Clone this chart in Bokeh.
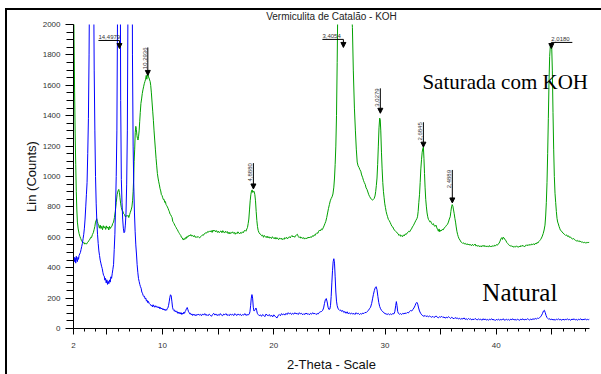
import math
from bokeh.plotting import figure
from bokeh.models import (Range1d, FixedTicker, SingleIntervalTicker, Label, Arrow, NormalHead)
from bokeh.embed import file_html
from bokeh.resources import INLINE

# ---------------- data ----------------
# (2-theta in degrees, counts) — Vermiculita saturada com KOH (green)
koh_scan = [
    (2.00, 2300), (2.05, 1900), (2.10, 1550), (2.15, 1280), (2.20, 1080), (2.25, 900), (2.30, 780), (2.35, 700),
    (2.42, 655), (2.50, 625), (2.58, 605), (2.65, 592), (2.72, 578), (2.80, 570), (2.88, 562), (2.95, 566),
    (3.02, 555), (3.10, 560), (3.18, 556), (3.25, 566), (3.32, 570), (3.40, 580), (3.48, 588), (3.55, 600),
    (3.62, 598), (3.70, 618), (3.78, 630), (3.85, 650), (3.92, 672), (3.98, 700), (4.04, 712), (4.09, 722),
    (4.14, 705), (4.20, 690), (4.27, 676), (4.33, 660), (4.40, 680), (4.47, 658), (4.54, 672), (4.61, 650),
    (4.68, 676), (4.75, 662), (4.82, 670), (4.89, 652), (4.96, 675), (5.03, 660), (5.10, 668), (5.17, 648),
    (5.24, 672), (5.31, 658), (5.38, 668), (5.45, 672), (5.52, 690), (5.60, 700), (5.68, 730), (5.76, 770),
    (5.84, 830), (5.92, 880), (6.00, 905), (6.07, 915), (6.13, 895), (6.18, 860), (6.24, 820), (6.30, 795),
    (6.37, 778), (6.44, 770), (6.51, 755), (6.58, 750), (6.66, 735), (6.74, 742), (6.82, 738), (6.90, 745),
    (6.97, 730), (7.04, 748), (7.11, 765), (7.18, 780), (7.25, 800), (7.31, 840), (7.36, 900), (7.41, 990),
    (7.45, 1100), (7.50, 1180), (7.55, 1290), (7.60, 1330), (7.65, 1310), (7.70, 1270), (7.75, 1250), (7.80, 1240),
    (7.85, 1265), (7.90, 1300), (7.95, 1360), (8.00, 1420), (8.06, 1480), (8.12, 1510), (8.18, 1545), (8.24, 1570),
    (8.30, 1590), (8.36, 1610), (8.42, 1625), (8.48, 1640), (8.54, 1665), (8.59, 1640), (8.64, 1670), (8.69, 1680),
    (8.74, 1655), (8.79, 1648), (8.84, 1635), (8.89, 1625), (8.94, 1600), (9.00, 1550), (9.06, 1490), (9.12, 1430),
    (9.18, 1370), (9.24, 1300), (9.30, 1240), (9.36, 1180), (9.42, 1120), (9.48, 1070), (9.54, 1020), (9.60, 990),
    (9.66, 965), (9.72, 945), (9.78, 920), (9.84, 905), (9.90, 880), (9.96, 875), (10.02, 860), (10.08, 848),
    (10.14, 850), (10.20, 830), (10.26, 835), (10.32, 815), (10.38, 808), (10.44, 800), (10.50, 790), (10.56, 778),
    (10.62, 768), (10.68, 752), (10.74, 748), (10.80, 738), (10.86, 730), (10.92, 705), (10.98, 698), (11.04, 690),
    (11.10, 680), (11.16, 672), (11.22, 665), (11.28, 655), (11.34, 650), (11.40, 640), (11.46, 632), (11.52, 625),
    (11.58, 618), (11.64, 612), (11.70, 600), (11.76, 598), (11.82, 588), (11.88, 582), (11.94, 592), (12.00, 586),
    (12.06, 598), (12.12, 592), (12.18, 604), (12.24, 600), (12.30, 610), (12.36, 606), (12.42, 615), (12.48, 610),
    (12.54, 618), (12.62, 608), (12.70, 612), (12.78, 604), (12.86, 612), (12.94, 600), (13.02, 605), (13.10, 598),
    (13.18, 606), (13.26, 600), (13.34, 596), (13.42, 604), (13.50, 610), (13.58, 615), (13.66, 612), (13.74, 622),
    (13.82, 626), (13.90, 630), (13.98, 628), (14.06, 638), (14.14, 634), (14.22, 642), (14.30, 636), (14.38, 644),
    (14.46, 632), (14.54, 648), (14.62, 640), (14.70, 646), (14.78, 636), (14.86, 644), (14.94, 632), (15.02, 640),
    (15.10, 630), (15.18, 638), (15.26, 642), (15.34, 630), (15.42, 644), (15.50, 634), (15.58, 628), (15.66, 640),
    (15.74, 632), (15.82, 638), (15.90, 624), (15.98, 634), (16.06, 622), (16.14, 632), (16.22, 628), (16.30, 636),
    (16.38, 626), (16.46, 632), (16.54, 620), (16.62, 630), (16.70, 624), (16.78, 636), (16.86, 628), (16.94, 622),
    (17.02, 632), (17.10, 626), (17.18, 636), (17.26, 630), (17.34, 642), (17.42, 646), (17.50, 640), (17.58, 655),
    (17.64, 665), (17.70, 690), (17.76, 720), (17.82, 780), (17.88, 840), (17.94, 880), (18.00, 905), (18.06, 912),
    (18.12, 895), (18.18, 905), (18.24, 900), (18.30, 880), (18.36, 840), (18.42, 770), (18.48, 710), (18.54, 670),
    (18.60, 645), (18.68, 630), (18.76, 622), (18.84, 618), (18.92, 610), (19.00, 615), (19.08, 600), (19.16, 612),
    (19.24, 605), (19.32, 598), (19.40, 608), (19.48, 596), (19.56, 604), (19.64, 594), (19.72, 600), (19.80, 592),
    (19.88, 604), (19.96, 596), (20.04, 590), (20.12, 600), (20.20, 588), (20.28, 598), (20.36, 590), (20.44, 585),
    (20.52, 596), (20.60, 588), (20.68, 594), (20.76, 584), (20.84, 592), (20.92, 586), (21.00, 598), (21.08, 592),
    (21.16, 600), (21.24, 590), (21.32, 598), (21.40, 604), (21.48, 596), (21.56, 606), (21.64, 612), (21.72, 602),
    (21.80, 608), (21.88, 600), (21.96, 610), (22.04, 616), (22.12, 620), (22.20, 606), (22.28, 598), (22.36, 604),
    (22.44, 594), (22.52, 600), (22.60, 592), (22.68, 598), (22.76, 588), (22.84, 596), (22.92, 590), (23.00, 598),
    (23.08, 594), (23.16, 602), (23.24, 596), (23.32, 604), (23.40, 600), (23.48, 610), (23.56, 606), (23.64, 616),
    (23.72, 612), (23.80, 624), (23.88, 630), (23.96, 626), (24.04, 640), (24.12, 648), (24.20, 642), (24.28, 655),
    (24.36, 650), (24.44, 662), (24.52, 675), (24.60, 690), (24.68, 705), (24.76, 730), (24.84, 760), (24.92, 790),
    (25.00, 815), (25.08, 840), (25.16, 855), (25.24, 866), (25.32, 885), (25.40, 930), (25.46, 990), (25.52, 1080),
    (25.58, 1200), (25.64, 1400), (25.70, 1750), (25.76, 2150), (25.85, 2700), (25.95, 3100), (26.05, 3350), (26.15, 3450),
    (26.25, 3380), (26.40, 3100), (26.60, 2700), (26.80, 2380), (26.95, 2150), (27.07, 1980), (27.15, 1700), (27.25, 1450),
    (27.34, 1300), (27.42, 1180), (27.50, 1095), (27.58, 1070), (27.66, 1060), (27.74, 1045), (27.82, 1035), (27.90, 1010),
    (27.98, 995), (28.06, 975), (28.14, 960), (28.22, 948), (28.30, 925), (28.38, 915), (28.46, 898), (28.54, 880),
    (28.62, 868), (28.70, 858), (28.78, 850), (28.86, 845), (28.94, 848), (29.02, 855), (29.10, 872), (29.16, 900),
    (29.22, 940), (29.28, 990), (29.34, 1080), (29.40, 1200), (29.46, 1320), (29.52, 1384), (29.57, 1375), (29.62, 1300),
    (29.68, 1160), (29.74, 1050), (29.80, 960), (29.86, 900), (29.92, 860), (29.98, 820), (30.04, 795), (30.10, 770),
    (30.16, 752), (30.22, 738), (30.30, 718), (30.38, 710), (30.46, 698), (30.54, 685), (30.62, 672), (30.70, 668),
    (30.78, 655), (30.86, 646), (30.94, 640), (31.02, 636), (31.10, 628), (31.18, 622), (31.26, 612), (31.34, 618),
    (31.42, 606), (31.50, 612), (31.58, 604), (31.66, 616), (31.74, 610), (31.82, 622), (31.90, 618), (31.98, 628),
    (32.06, 632), (32.14, 640), (32.22, 636), (32.30, 648), (32.38, 655), (32.46, 668), (32.54, 676), (32.62, 688),
    (32.70, 700), (32.78, 712), (32.86, 722), (32.92, 735), (32.98, 770), (33.04, 830), (33.10, 880), (33.16, 960),
    (33.22, 1050), (33.28, 1110), (33.34, 1160), (33.40, 1185), (33.45, 1193), (33.50, 1120), (33.55, 1020), (33.60, 930),
    (33.66, 850), (33.72, 800), (33.78, 760), (33.84, 735), (33.90, 718), (33.96, 712), (34.02, 702), (34.10, 706),
    (34.18, 692), (34.26, 684), (34.34, 690), (34.42, 676), (34.50, 672), (34.58, 680), (34.66, 662), (34.74, 650),
    (34.80, 640), (34.86, 655), (34.92, 636), (34.98, 648), (35.06, 642), (35.14, 652), (35.22, 648), (35.30, 660),
    (35.38, 664), (35.46, 672), (35.54, 680), (35.62, 686), (35.70, 700), (35.78, 720), (35.86, 735), (35.92, 770),
    (35.98, 800), (36.04, 815), (36.10, 805), (36.16, 780), (36.22, 755), (36.28, 725), (36.34, 700), (36.40, 668),
    (36.46, 640), (36.52, 620), (36.58, 605), (36.66, 590), (36.74, 582), (36.82, 570), (36.90, 566), (36.98, 560),
    (37.06, 564), (37.14, 556), (37.22, 560), (37.30, 552), (37.38, 558), (37.46, 550), (37.54, 556), (37.62, 548),
    (37.70, 552), (37.78, 545), (37.86, 554), (37.94, 546), (38.02, 550), (38.10, 556), (38.18, 542), (38.26, 548),
    (38.34, 540), (38.42, 546), (38.50, 538), (38.58, 544), (38.66, 536), (38.74, 546), (38.82, 540), (38.90, 548),
    (38.98, 538), (39.06, 544), (39.14, 536), (39.22, 542), (39.30, 538), (39.38, 546), (39.46, 536), (39.54, 542),
    (39.62, 538), (39.70, 546), (39.78, 540), (39.86, 548), (39.94, 544), (40.02, 552), (40.10, 548), (40.18, 556),
    (40.26, 562), (40.34, 575), (40.42, 590), (40.50, 598), (40.56, 586), (40.62, 600), (40.70, 596), (40.78, 584),
    (40.86, 580), (40.94, 566), (41.02, 560), (41.10, 552), (41.18, 548), (41.26, 542), (41.34, 546), (41.42, 538),
    (41.50, 542), (41.58, 534), (41.66, 540), (41.74, 536), (41.82, 544), (41.90, 538), (41.98, 534), (42.06, 542),
    (42.14, 536), (42.22, 546), (42.30, 540), (42.38, 548), (42.46, 542), (42.54, 536), (42.62, 546), (42.70, 550),
    (42.78, 544), (42.86, 552), (42.94, 546), (43.02, 554), (43.10, 548), (43.18, 556), (43.26, 552), (43.34, 558),
    (43.42, 550), (43.50, 560), (43.58, 556), (43.66, 566), (43.74, 562), (43.82, 572), (43.90, 578), (43.98, 585),
    (44.06, 595), (44.14, 608), (44.22, 625), (44.30, 648), (44.38, 680), (44.44, 740), (44.50, 830), (44.56, 960),
    (44.62, 1150), (44.68, 1380), (44.74, 1620), (44.80, 1790), (44.86, 1860), (44.92, 1875), (44.98, 1860), (45.04, 1700),
    (45.10, 1420), (45.16, 1180), (45.22, 1000), (45.28, 890), (45.34, 830), (45.40, 770), (45.46, 725), (45.52, 700),
    (45.58, 688), (45.64, 672), (45.70, 660), (45.76, 648), (45.84, 642), (45.92, 635), (46.00, 628), (46.08, 622),
    (46.16, 618), (46.24, 612), (46.32, 616), (46.40, 606), (46.48, 610), (46.56, 600), (46.64, 604), (46.72, 596),
    (46.80, 592), (46.88, 588), (46.96, 592), (47.04, 584), (47.12, 580), (47.20, 576), (47.28, 580), (47.36, 572),
    (47.44, 578), (47.52, 570), (47.60, 574), (47.68, 566), (47.76, 570), (47.84, 564), (47.92, 568), (48.00, 562),
    (48.08, 566), (48.16, 562), (48.24, 568), (48.32, 565), (48.38, 570),
]

# (2-theta in degrees, counts) — Vermiculita natural (blue)
natural_scan = [
    (2.00, 452), (2.05, 470), (2.10, 440), (2.15, 465), (2.20, 430), (2.25, 475), (2.30, 450), (2.35, 440),
    (2.40, 468), (2.45, 455), (2.50, 480), (2.56, 490), (2.62, 500), (2.68, 520), (2.74, 540), (2.80, 560),
    (2.86, 590), (2.92, 620), (2.98, 660), (3.04, 720), (3.10, 800), (3.16, 880), (3.22, 960), (3.28, 1150),
    (3.34, 1380), (3.40, 1800), (3.46, 2500), (3.55, 3600), (3.64, 4200), (3.72, 3600), (3.80, 2400), (3.86, 1700),
    (3.92, 1300), (3.98, 1000), (4.04, 820), (4.10, 700), (4.16, 620), (4.22, 560), (4.28, 510), (4.34, 480),
    (4.40, 450), (4.46, 430), (4.52, 410), (4.58, 395), (4.64, 370), (4.70, 350), (4.76, 345), (4.82, 318),
    (4.88, 330), (4.94, 300), (5.00, 320), (5.06, 290), (5.12, 310), (5.18, 295), (5.24, 320), (5.30, 305),
    (5.36, 340), (5.42, 330), (5.48, 360), (5.54, 390), (5.60, 420), (5.66, 520), (5.72, 620), (5.78, 800),
    (5.84, 1000), (5.90, 1300), (5.96, 2100), (6.02, 4500), (6.10, 5000), (6.18, 3000), (6.24, 1500), (6.30, 980),
    (6.36, 830), (6.42, 720), (6.48, 660), (6.54, 630), (6.60, 635), (6.66, 680), (6.72, 760), (6.78, 950),
    (6.84, 1300), (6.90, 2200), (6.98, 5000), (7.10, 6000), (7.22, 4000), (7.30, 1800), (7.36, 1200), (7.42, 930),
    (7.48, 760), (7.54, 640), (7.60, 550), (7.66, 490), (7.72, 420), (7.78, 370), (7.84, 330), (7.90, 310),
    (7.96, 290), (8.02, 275), (8.08, 265), (8.14, 240), (8.20, 232), (8.26, 218), (8.32, 210), (8.38, 212),
    (8.44, 195), (8.50, 200), (8.56, 180), (8.62, 185), (8.68, 170), (8.74, 178), (8.80, 165), (8.86, 160),
    (8.92, 158), (8.98, 150), (9.04, 155), (9.10, 142), (9.16, 156), (9.22, 148), (9.28, 140), (9.34, 150),
    (9.40, 142), (9.46, 146), (9.52, 138), (9.58, 144), (9.64, 135), (9.70, 142), (9.76, 130), (9.82, 138),
    (9.88, 128), (9.94, 135), (10.00, 125), (10.06, 130), (10.12, 122), (10.18, 128), (10.24, 118), (10.30, 125),
    (10.36, 120), (10.42, 130), (10.48, 135), (10.54, 150), (10.60, 175), (10.66, 205), (10.72, 222), (10.78, 215),
    (10.84, 180), (10.90, 140), (10.96, 125), (11.02, 118), (11.08, 122), (11.14, 110), (11.20, 116), (11.26, 108),
    (11.32, 112), (11.38, 100), (11.44, 108), (11.50, 98), (11.56, 106), (11.62, 95), (11.68, 104), (11.74, 92),
    (11.80, 102), (11.86, 96), (11.92, 108), (11.98, 100), (12.04, 112), (12.10, 120), (12.16, 132), (12.22, 138),
    (12.28, 125), (12.34, 110), (12.40, 104), (12.46, 96), (12.52, 100), (12.58, 90), (12.64, 96), (12.70, 86),
    (12.76, 94), (12.82, 88), (12.88, 92), (12.94, 84), (13.00, 92), (13.10, 86), (13.20, 95), (13.30, 88),
    (13.40, 93), (13.50, 84), (13.60, 96), (13.70, 88), (13.80, 98), (13.90, 86), (14.00, 92), (14.10, 84),
    (14.20, 95), (14.30, 88), (14.40, 80), (14.50, 92), (14.60, 100), (14.70, 88), (14.80, 96), (14.90, 85),
    (15.00, 92), (15.10, 86), (15.20, 98), (15.30, 88), (15.40, 84), (15.50, 95), (15.60, 90), (15.70, 98),
    (15.80, 86), (15.90, 92), (16.00, 84), (16.10, 96), (16.20, 88), (16.30, 94), (16.40, 85), (16.50, 98),
    (16.60, 90), (16.70, 86), (16.80, 96), (16.90, 88), (17.00, 94), (17.10, 84), (17.20, 92), (17.30, 88),
    (17.40, 98), (17.50, 86), (17.60, 92), (17.70, 88), (17.80, 96), (17.86, 110), (17.92, 150), (17.98, 200),
    (18.04, 223), (18.10, 200), (18.16, 140), (18.22, 115), (18.28, 118), (18.34, 125), (18.40, 135), (18.46, 120),
    (18.52, 100), (18.60, 92), (18.70, 84), (18.80, 90), (18.90, 80), (19.00, 92), (19.10, 86), (19.20, 78),
    (19.30, 95), (19.40, 88), (19.50, 84), (19.60, 92), (19.70, 80), (19.80, 88), (19.90, 76), (20.00, 90),
    (20.10, 82), (20.20, 74), (20.30, 70), (20.40, 86), (20.50, 92), (20.60, 84), (20.70, 98), (20.80, 90),
    (20.90, 96), (21.00, 88), (21.10, 100), (21.20, 92), (21.30, 104), (21.40, 96), (21.50, 102), (21.60, 92),
    (21.70, 100), (21.80, 94), (21.90, 104), (22.00, 96), (22.10, 100), (22.20, 92), (22.30, 104), (22.40, 96),
    (22.50, 100), (22.60, 90), (22.70, 98), (22.80, 92), (22.90, 102), (23.00, 94), (23.10, 98), (23.20, 90),
    (23.30, 100), (23.40, 94), (23.50, 104), (23.60, 96), (23.70, 100), (23.80, 92), (23.90, 98), (24.00, 96),
    (24.10, 106), (24.20, 110), (24.30, 112), (24.40, 120), (24.48, 135), (24.56, 165), (24.64, 190), (24.72, 197),
    (24.80, 175), (24.88, 140), (24.96, 125), (25.04, 128), (25.10, 150), (25.16, 210), (25.22, 300), (25.28, 380),
    (25.34, 440), (25.40, 459), (25.46, 430), (25.52, 340), (25.58, 240), (25.64, 180), (25.70, 150), (25.78, 130),
    (25.86, 125), (25.94, 118), (26.02, 122), (26.10, 112), (26.20, 118), (26.30, 105), (26.40, 112), (26.50, 100),
    (26.60, 110), (26.70, 96), (26.80, 104), (26.90, 95), (27.00, 102), (27.10, 94), (27.20, 100), (27.30, 92),
    (27.40, 104), (27.50, 96), (27.60, 100), (27.70, 92), (27.80, 98), (27.90, 94), (28.00, 102), (28.10, 98),
    (28.20, 106), (28.30, 104), (28.40, 112), (28.50, 118), (28.60, 130), (28.70, 140), (28.80, 165), (28.88, 195),
    (28.96, 225), (29.04, 250), (29.12, 268), (29.20, 275), (29.28, 255), (29.36, 210), (29.44, 170), (29.52, 145),
    (29.60, 130), (29.70, 118), (29.80, 110), (29.90, 104), (30.00, 98), (30.10, 96), (30.20, 92), (30.30, 98),
    (30.40, 90), (30.50, 96), (30.60, 92), (30.70, 98), (30.80, 96), (30.88, 110), (30.96, 150), (31.02, 177),
    (31.08, 150), (31.14, 112), (31.20, 100), (31.30, 94), (31.40, 98), (31.50, 92), (31.60, 100), (31.70, 96),
    (31.80, 102), (31.90, 98), (32.00, 106), (32.10, 102), (32.20, 112), (32.30, 118), (32.40, 115), (32.50, 125),
    (32.60, 135), (32.70, 150), (32.78, 165), (32.86, 172), (32.94, 160), (33.02, 135), (33.10, 115), (33.20, 100),
    (33.30, 90), (33.40, 84), (33.50, 80), (33.60, 86), (33.70, 78), (33.80, 84), (33.90, 76), (34.00, 82),
    (34.10, 78), (34.20, 74), (34.30, 80), (34.40, 72), (34.50, 78), (34.60, 82), (34.70, 74), (34.80, 70),
    (34.90, 78), (35.00, 74), (35.10, 80), (35.20, 72), (35.30, 76), (35.40, 68), (35.50, 74), (35.60, 70),
    (35.70, 78), (35.80, 72), (35.90, 66), (36.00, 74), (36.10, 68), (36.20, 64), (36.30, 72), (36.40, 66),
    (36.50, 70), (36.60, 62), (36.70, 68), (36.80, 60), (36.90, 66), (37.00, 62), (37.10, 70), (37.20, 60),
    (37.30, 64), (37.40, 58), (37.50, 66), (37.60, 60), (37.70, 64), (37.80, 56), (37.90, 62), (38.00, 58),
    (38.10, 66), (38.20, 60), (38.30, 56), (38.40, 64), (38.50, 58), (38.60, 62), (38.70, 54), (38.80, 64),
    (38.90, 58), (39.00, 62), (39.10, 56), (39.20, 60), (39.30, 54), (39.40, 62), (39.50, 58), (39.60, 64),
    (39.70, 56), (39.80, 60), (39.90, 52), (40.00, 60), (40.10, 56), (40.20, 62), (40.30, 54), (40.40, 60),
    (40.50, 56), (40.60, 64), (40.70, 58), (40.80, 54), (40.90, 62), (41.00, 56), (41.10, 60), (41.20, 54),
    (41.30, 62), (41.40, 58), (41.50, 64), (41.60, 56), (41.70, 60), (41.80, 54), (41.90, 62), (42.00, 58),
    (42.10, 54), (42.20, 62), (42.30, 58), (42.40, 64), (42.50, 56), (42.60, 60), (42.70, 58), (42.80, 64),
    (42.90, 60), (43.00, 56), (43.10, 62), (43.20, 58), (43.30, 64), (43.40, 60), (43.50, 66), (43.60, 62),
    (43.70, 68), (43.80, 66), (43.90, 72), (44.00, 78), (44.08, 88), (44.16, 100), (44.24, 115), (44.32, 120),
    (44.40, 105), (44.48, 85), (44.56, 72), (44.64, 66), (44.72, 60), (44.80, 64), (44.90, 58), (45.00, 62),
    (45.10, 56), (45.20, 60), (45.30, 54), (45.40, 62), (45.50, 58), (45.60, 64), (45.70, 56), (45.80, 60),
    (45.90, 54), (46.00, 62), (46.10, 56), (46.20, 60), (46.30, 58), (46.40, 64), (46.50, 56), (46.60, 60),
    (46.70, 54), (46.80, 62), (46.90, 58), (47.00, 64), (47.10, 56), (47.20, 60), (47.30, 54), (47.40, 62),
    (47.50, 58), (47.60, 64), (47.70, 56), (47.80, 60), (47.90, 58), (48.00, 64), (48.10, 56), (48.20, 60),
    (48.30, 58), (48.38, 62),
]

# peak d-spacing labels (Å), their 2-theta, arrow tip and arrow top (counts)
peak_labels = ["14,4979", "10,2936", "4,8880", "3,4054", "3,0279", "2,6845", "2,4889", "2,0180"]
peak_2theta = [6.13, 8.68, 18.17, 26.26, 29.58, 33.45, 36.05, 44.95]
peak_tip = [1842, 1665, 918, 1849, 1416, 1193, 826, 1842]
peak_top = [1895, 1849, 1088, 1902, 1580, 1357, 1043, 1882]
peak_kind = ["left", "vertical", "vertical", "left", "vertical", "vertical", "vertical", "right"]

title_text = "Vermiculita de Catalão - KOH"
x_title = "2-Theta - Scale"
y_title = "Lin (Counts)"
x_tick_values = [2, 5, 10, 15, 20, 25, 30, 35, 40, 45]
x_tick_labels = {2: "2", 5: "", 10: "10", 15: "", 20: "20", 25: "", 30: "30", 35: "", 40: "40", 45: ""}
sample_labels = ["Saturada com KOH", "Natural"]
sample_label_pos = [(33.36, 1620), (38.75, 236)]

# ---------------- figure ----------------
X0, X1 = 2.0, 48.38
p = figure(width=601, height=374, output_backend="svg", toolbar_location=None,
           x_range=Range1d(X0, X1), y_range=Range1d(0, 2000),
           min_border_left=73, min_border_right=12, min_border_top=24, min_border_bottom=45,
           title=title_text)
p.background_fill_color = "white"
p.border_fill_color = None   # let the host background (outer picture frame) show through
p.outline_line_color = None
p.grid.visible = False
# outer frame of the original picture: left and top edges
p.styles = {
    "background-color": "white",
    "background-image": "linear-gradient(#000, #000), linear-gradient(#000, #000)",
    "background-position": "5px 7.5px, 5px 7.5px",
    "background-size": "2px 420px, 700px 2px",
    "background-repeat": "no-repeat",
}

p.title.align = "center"
p.title.offset = 14
p.title.text_font = "Liberation Sans"
p.title.text_font_size = "10px"
p.title.text_font_style = "normal"
p.title.text_color = "#222222"
p.title.standoff = 5

FONT = "Liberation Sans"
for ax in (p.xaxis[0], p.yaxis[0]):
    ax.axis_line_color = "black"
    ax.axis_line_width = 1
    ax.major_tick_line_color = "black"
    ax.minor_tick_line_color = "black"
    ax.major_tick_in = 0
    ax.minor_tick_in = 0
    ax.major_label_text_font = FONT
    ax.major_label_text_font_size = "8px"
    ax.major_label_text_color = "#333333"
    ax.axis_label_text_font = FONT
    ax.axis_label_text_font_size = "13px"
    ax.axis_label_text_font_style = "normal"
    ax.axis_label_text_color = "#111111"

p.xaxis.ticker = FixedTicker(ticks=x_tick_values, minor_ticks=list(range(2, 49)))
p.xaxis.major_label_overrides = x_tick_labels
p.xaxis.major_tick_out = 6
p.xaxis.minor_tick_out = 3
p.xaxis.major_label_standoff = 8
p.xaxis.axis_label = x_title
p.xaxis.axis_label_standoff = 6

p.yaxis.ticker = SingleIntervalTicker(interval=200, num_minor_ticks=4)
p.yaxis.major_tick_out = 8
p.yaxis.minor_tick_out = 7
p.yaxis.major_label_standoff = 5
p.yaxis.axis_label = y_title
p.yaxis.axis_label_standoff = 1

# scans
kx = [a for a, b in koh_scan]
ky = [b for a, b in koh_scan]
nx = [a for a, b in natural_scan]
ny = [b for a, b in natural_scan]
p.line(kx, ky, line_color="#00a000", line_width=1)
p.line(nx, ny, line_color="#0000ff", line_width=1)

# peak annotations
px_per_unit = (601 - 73 - 12) / (X1 - X0)
hw = 21 / px_per_unit
for lab, x, tip, top, kind in zip(peak_labels, peak_2theta, peak_tip, peak_top, peak_kind):
    p.add_layout(Arrow(end=NormalHead(size=5, fill_color="black", line_color="black", line_width=1),
                       x_start=x, y_start=top, x_end=x, y_end=tip,
                       line_color="black", line_width=1))
    if kind == "vertical":
        p.add_layout(Label(x=x, y=top, text=lab, angle=math.pi / 2, text_align="right",
                           text_baseline="bottom", x_offset=-1, text_font=FONT,
                           text_font_size="6px", text_color="#333333"))
    else:
        x0 = x - hw if kind == "left" else x
        p.segment(x0=[x0], y0=[top], x1=[x0 + hw], y1=[top], line_color="black", line_width=1)
        p.add_layout(Label(x=x0, y=top, text=lab, text_align="left", text_baseline="bottom",
                           y_offset=1, text_font=FONT, text_font_size="6px",
                           text_color="#333333"))

for txt, (lx, ly), size in zip(sample_labels, sample_label_pos, ["21px", "25px"]):
    p.add_layout(Label(x=lx, y=ly, text=txt, text_align="left", text_baseline="alphabetic",
                       text_font="Liberation Serif", text_font_size=size, text_color="black"))

open("out.html", "w").write(file_html(p, INLINE))
